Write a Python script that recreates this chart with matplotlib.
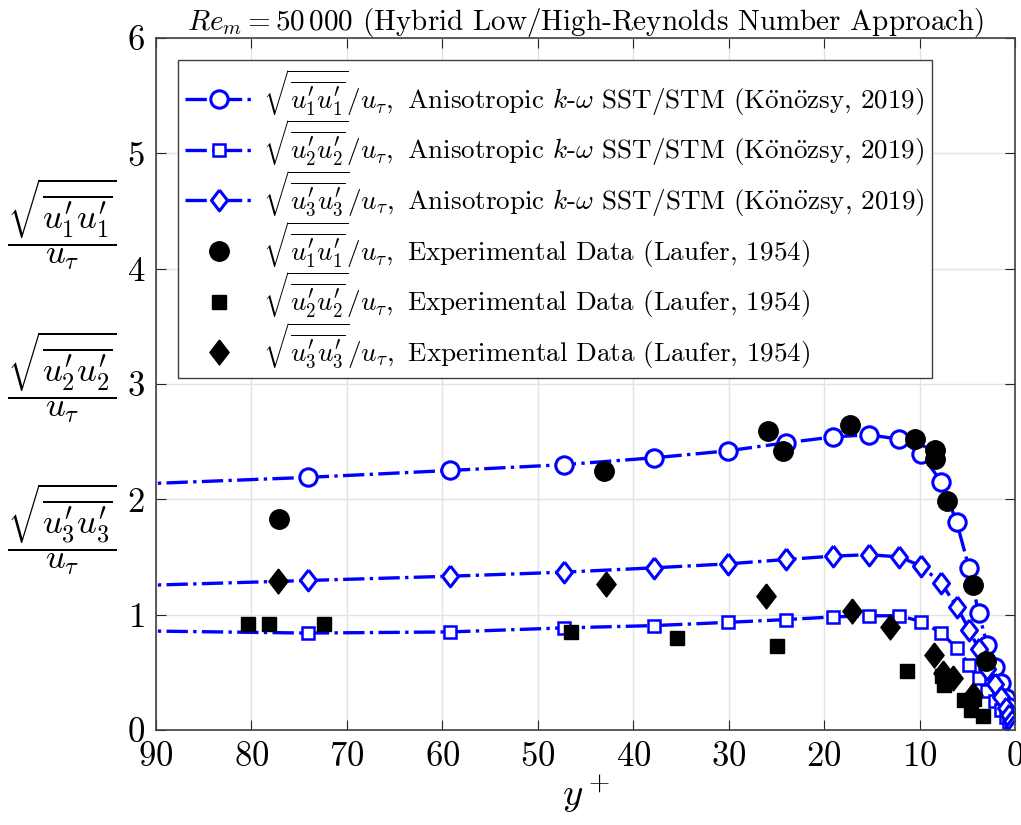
import matplotlib
matplotlib.use('Agg')
import matplotlib.pyplot as plt

plt.rcParams['font.family'] = 'serif'
plt.rcParams['font.serif'] = ['cmr10']
plt.rcParams['mathtext.fontset'] = 'cm'
plt.rcParams['axes.formatter.use_mathtext'] = True
plt.rcParams['axes.unicode_minus'] = False

# model (Anisotropic k-omega SST/STM), same y+ grid for all three
y_model = [92.6, 74.1, 59.2, 47.3, 37.8, 30.1, 24.0, 19.1, 15.3, 12.1, 9.8, 7.7, 6.1,
           4.8, 3.8, 2.9, 2.1, 1.44, 0.9, 0.6, 0.35, 0.15, 0.0]
u1_model = [2.13, 2.19, 2.25, 2.30, 2.36, 2.42, 2.49, 2.54, 2.56, 2.52, 2.39, 2.15, 1.80,
            1.40, 1.01, 0.74, 0.55, 0.41, 0.28, 0.20, 0.12, 0.05, 0.0]
u2_model = [0.86, 0.84, 0.85, 0.885, 0.905, 0.933, 0.957, 0.98, 0.99, 0.99, 0.94, 0.84, 0.71,
            0.565, 0.45, 0.34, 0.25, 0.17, 0.11, 0.07, 0.04, 0.02, 0.0]
u3_model = [1.25, 1.296, 1.333, 1.368, 1.406, 1.44, 1.478, 1.507, 1.52, 1.50, 1.42, 1.27, 1.07,
            0.87, 0.70, 0.53, 0.40, 0.29, 0.19, 0.13, 0.08, 0.03, 0.0]

# experimental data (Laufer, 1954)
y_exp1 = [77.1, 43.1, 25.9, 24.3, 17.3, 10.5, 8.4, 8.4, 7.1, 4.4, 3.0]
u1_exp = [1.826, 2.246, 2.59, 2.42, 2.64, 2.52, 2.43, 2.35, 1.985, 1.26, 0.594]
y_exp2 = [80.4, 78.2, 72.4, 46.5, 35.4, 24.9, 11.3, 7.6, 7.4, 5.3, 4.3, 4.6, 3.4]
u2_exp = [0.92, 0.92, 0.92, 0.85, 0.80, 0.724, 0.51, 0.47, 0.39, 0.26, 0.27, 0.17, 0.12]
y_exp3 = [77.2, 42.8, 26.1, 17.1, 13.05, 8.5, 7.5, 6.5, 4.4]
u3_exp = [1.29, 1.267, 1.16, 1.035, 0.89, 0.65, 0.49, 0.45, 0.30]

blue = (0, 0, 1)
diam = [(0, 1), (0.77, 0), (0, -1), (-0.77, 0), (0, 1)]

fig = plt.figure(figsize=(10.21, 8.25), dpi=100)
ax = fig.add_axes([0.1528, 0.1152, 0.8413, 0.8388])

lab1 = r'$\sqrt{\overline{u_1^\prime u_1^\prime}}/u_\tau,$'
lab2 = r'$\sqrt{\overline{u_2^\prime u_2^\prime}}/u_\tau,$'
lab3 = r'$\sqrt{\overline{u_3^\prime u_3^\prime}}/u_\tau,$'
mod = r' Anisotropic $k$-$\omega$ SST/STM (K$\mathrm{\ddot{o}}$n$\mathrm{\ddot{o}}$zsy, 2019)'
exp = r' Experimental Data (Laufer, 1954)'

ax.plot(y_model, u1_model, ls='-.', color=blue, lw=2.4, marker='o', ms=12.5,
        mfc='white', mec=blue, mew=2.2, label=lab1 + mod)
ax.plot(y_model, u2_model, ls='-.', color=blue, lw=2.4, marker='s', ms=9,
        mfc='white', mec=blue, mew=1.8, label=lab2 + mod)
ax.plot(y_model, u3_model, ls='-.', color=blue, lw=2.4, marker=diam, ms=15,
        mfc='white', mec=blue, mew=2.2, label=lab3 + mod)
ax.plot(y_exp1, u1_exp, ls='none', marker='o', ms=14, color='black', label=lab1 + exp)
ax.plot(y_exp2, u2_exp, ls='none', marker='s', ms=10, color='black', label=lab2 + exp)
ax.plot(y_exp3, u3_exp, ls='none', marker=diam, ms=18, color='black', label=lab3 + exp)

ax.set_xlim(90, 0)
ax.set_ylim(0, 6)
ax.set_xticks(range(0, 91, 10))
ax.set_yticks(range(0, 7))
ax.grid(True, color='#e3e3e3', lw=1)
ax.set_axisbelow(True)
ax.tick_params(direction='in', top=True, right=True, labelsize=25, length=7,
               colors='#262626', pad=8)
for tl in ax.get_xticklabels() + ax.get_yticklabels():
    tl.set_color('black')
for s in ax.spines.values():
    s.set_color('#404040')
    s.set_linewidth(1.2)

ax.set_xlabel(r'$y^+$', fontsize=28, labelpad=0)
ax.set_title(r'$Re_m = 50\,000$ (Hybrid Low/High-Reynolds Number Approach)', fontsize=21, pad=6)

for yy, k in [(4.39, 1), (3.06, 2), (1.74, 3)]:
    ax.text(-0.109, yy / 6, r'$\dfrac{\sqrt{\overline{u_%d^\prime u_%d^\prime}}}{u_\tau}$' % (k, k),
            transform=ax.transAxes, fontsize=25, ha='center', va='center')

leg = ax.legend(loc='upper left', bbox_to_anchor=(0.0256, 0.968), fontsize=19.5,
                fancybox=False, framealpha=1, edgecolor='#404040', handlelength=2.5,
                labelspacing=0.0, borderpad=0.25, handletextpad=0.4, borderaxespad=0)
leg.get_frame().set_linewidth(1.0)

fig.savefig('out.png', dpi=100)
